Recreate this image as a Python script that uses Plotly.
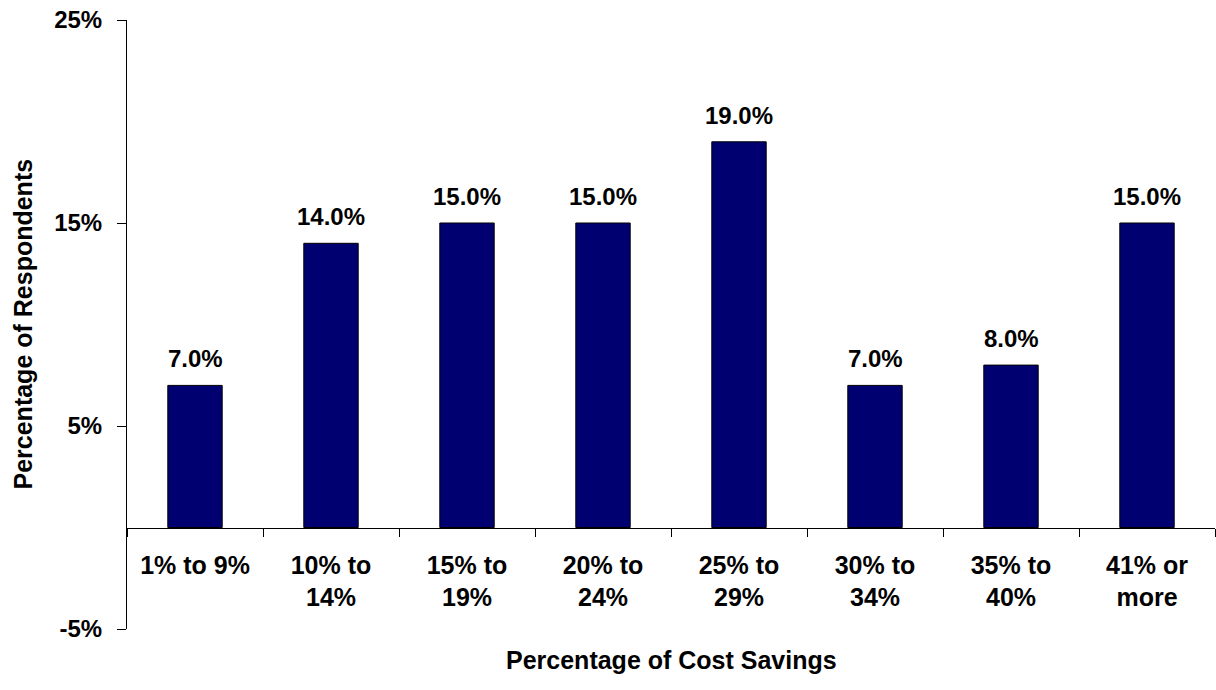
import plotly.graph_objects as go

categories = ["1% to 9%", "10% to<br>14%", "15% to<br>19%", "20% to<br>24%",
              "25% to<br>29%", "30% to<br>34%", "35% to<br>40%", "41% or<br>more"]
values = [7.0, 14.0, 15.0, 15.0, 19.0, 7.0, 8.0, 15.0]
y_ticks = [-5, 5, 15, 25]
y_tick_labels = ["-5%", "5%", "15%", "25%"]

FONT = "Liberation Sans, Arial, sans-serif"

fig = go.Figure()
fig.add_trace(go.Bar(
    x=categories, y=values,
    marker=dict(color="#000070", line=dict(color="black", width=1)),
    hoverinfo="skip",
))

for c, v in zip(categories, values):
    fig.add_annotation(x=c, y=v, text=f"<b>{v:.1f}%</b>", showarrow=False,
                       yanchor="bottom", yshift=11,
                       font=dict(family=FONT, size=24, color="black"))

fig.update_layout(
    width=1216, height=690,
    margin=dict(l=127, r=1, t=20, b=61),
    paper_bgcolor="white", plot_bgcolor="white",
    bargap=0.6, showlegend=False,
    font=dict(family=FONT, color="black"),
    xaxis=dict(
        anchor="free", position=1/6,
        showline=True, linecolor="black", linewidth=1,
        ticks="outside", tickson="boundaries", ticklen=8, tickcolor="black",
        ticklabelstandoff=15,
        tickfont=dict(family=FONT, size=25, color="black", weight="bold"),
        showgrid=False, zeroline=False,
    ),
    yaxis=dict(
        range=[-5, 25], tickvals=y_ticks, ticktext=y_tick_labels,
        showline=True, linecolor="black", linewidth=1,
        ticks="outside", ticklen=9, tickcolor="black",
        ticklabelstandoff=10,
        tickfont=dict(family=FONT, size=24, color="black", weight="bold"),
        showgrid=False, zeroline=False,
    ),
)

fig.add_annotation(xref="paper", yref="paper", x=0.5, y=-0.025,
                   text="<b>Percentage of Cost Savings</b>", showarrow=False,
                   yanchor="top", font=dict(family=FONT, size=25, color="black"))
fig.add_annotation(xref="paper", yref="paper", x=-0.0965, y=0.5, xanchor="center",
                   text="<b>Percentage of Respondents</b>", showarrow=False,
                   textangle=-90, font=dict(family=FONT, size=25, color="black"))

fig.write_html("out.html")
